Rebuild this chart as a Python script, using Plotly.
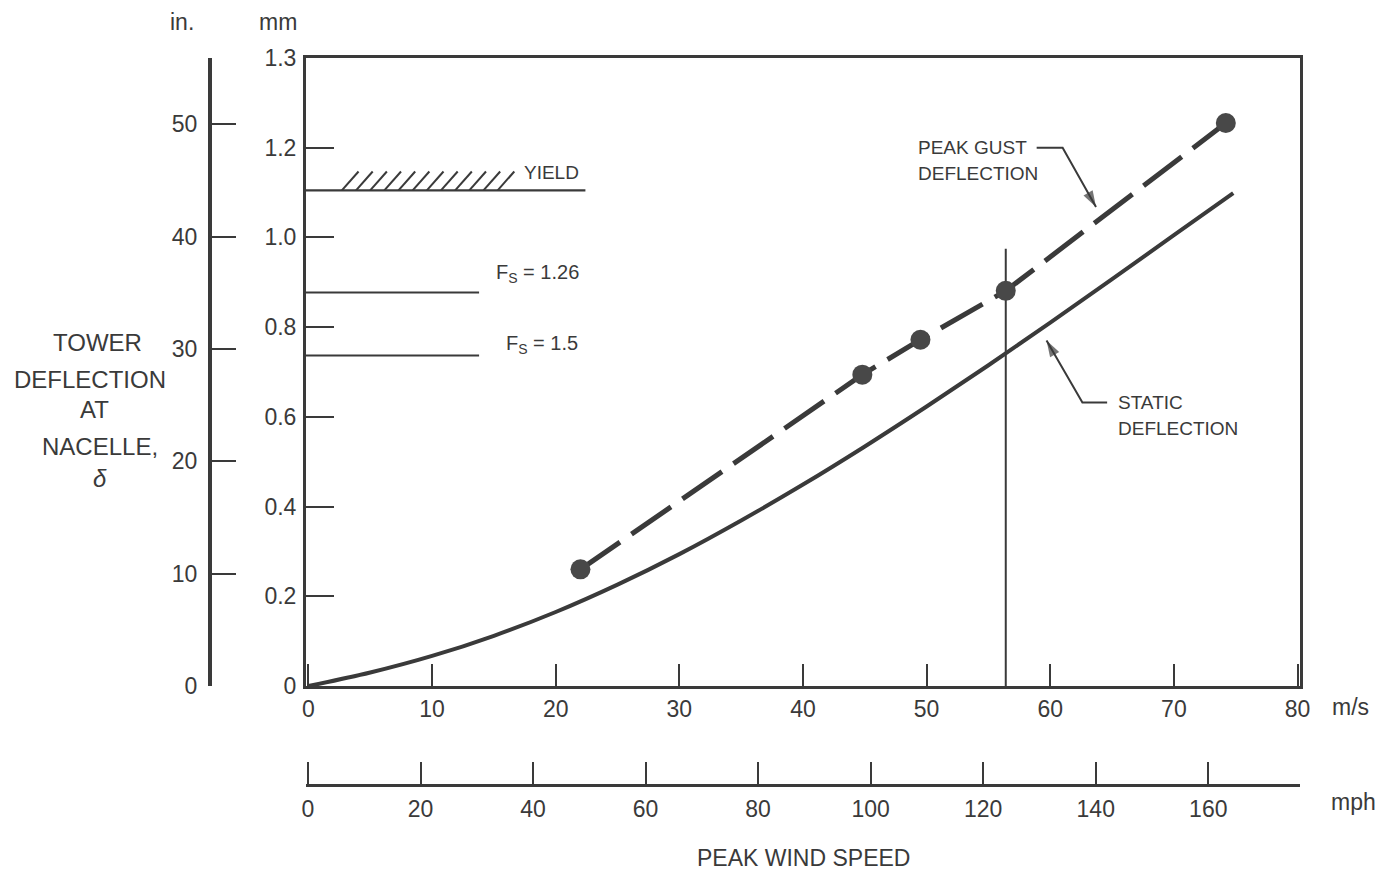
import numpy as np
import plotly.graph_objects as go

# ---- data -------------------------------------------------------------
# static deflection curve: peak wind speed (m/s) vs nacelle deflection
static_speed = [0, 5, 10, 15, 20, 25, 30, 35, 40, 45, 50, 55, 60, 65, 70, 74.8]
static_defl = [0, 0.03, 0.067, 0.112, 0.165, 0.226, 0.294, 0.369, 0.449,
               0.534, 0.623, 0.715, 0.810, 0.907, 1.005, 1.099]

# peak gust deflection points
gust_speed = [22.0, 44.8, 49.5, 56.4, 74.2]
gust_defl = [0.26, 0.694, 0.772, 0.881, 1.255]

# yield level and the safety-factor levels below it
yield_defl = 1.105
yield_end_speed = 22.4
safety_factors = [1.26, 1.5]
fs_end_speed = 13.8

# vertical reference at the design gust speed
ref_speed = 56.4
ref_top = 0.975

# axis ticks
ms_ticks = [0, 10, 20, 30, 40, 50, 60, 70, 80]
mm_ticks = [0, 0.2, 0.4, 0.6, 0.8, 1.0, 1.2, 1.4]
mm_labels = ["0", "0.2", "0.4", "0.6", "0.8", "1.0", "1.2", "1.3"]
in_ticks = [0, 10, 20, 30, 40, 50]
mph_ticks = [0, 20, 40, 60, 80, 100, 120, 140, 160]

# ---- layout helpers -----------------------------------------------------
W, H = 1394, 876
INK = "#3a3a3a"
FONT = "Liberation Sans, Arial, Helvetica, sans-serif"


def px(x):
    return x / W


def py(y):
    return 1 - y / H


X_RANGE = [-0.2, 80.2]
Y_RANGE = [0, 1.4]

fig = go.Figure()

# hidden traces so the secondary scales are laid out
fig.add_trace(go.Scatter(x=[0], y=[0], xaxis="x2", yaxis="y", mode="markers",
                         marker=dict(opacity=0), hoverinfo="skip", showlegend=False))
fig.add_trace(go.Scatter(x=[0], y=[0], xaxis="x", yaxis="y2", mode="markers",
                         marker=dict(opacity=0), hoverinfo="skip", showlegend=False))

# yield and safety factor levels
fig.add_trace(go.Scatter(x=[X_RANGE[0], yield_end_speed], y=[yield_defl, yield_defl],
                         mode="lines", line=dict(color=INK, width=2.2),
                         hoverinfo="skip", showlegend=False))
for fs in safety_factors:
    lvl = yield_defl / fs
    fig.add_trace(go.Scatter(x=[X_RANGE[0], fs_end_speed], y=[lvl, lvl],
                             mode="lines", line=dict(color=INK, width=2),
                             hoverinfo="skip", showlegend=False))

# hatching above the yield line
hatch_dx, hatch_dy = 1.35, 0.042
for xs in np.linspace(2.7, 15.3, 12):
    fig.add_shape(type="line", xref="x", yref="y", x0=xs, y0=yield_defl,
                  x1=xs + hatch_dx, y1=yield_defl + hatch_dy,
                  line=dict(color=INK, width=2))

# vertical reference line
fig.add_trace(go.Scatter(x=[ref_speed, ref_speed], y=[0, ref_top], mode="lines",
                         line=dict(color=INK, width=2), hoverinfo="skip",
                         showlegend=False))

# static deflection
fig.add_trace(go.Scatter(x=static_speed, y=static_defl, mode="lines",
                         line=dict(color=INK, width=4, shape="spline", smoothing=1.0),
                         showlegend=False))

# peak gust deflection
fig.add_trace(go.Scatter(x=gust_speed, y=gust_defl, mode="lines+markers",
                         line=dict(color=INK, width=5, dash="48px,14px"),
                         marker=dict(size=20, color="#484848"),
                         showlegend=False))


# leader lines: label end -> bend -> arrow tip
def leader(xs, ys):
    fig.add_trace(go.Scatter(
        x=xs, y=ys, mode="lines+markers", hoverinfo="skip", showlegend=False,
        line=dict(color=INK, width=2),
        marker=dict(symbol=["circle", "circle", "arrow"], size=[0, 0, 17],
                    angleref="previous", color=INK, line=dict(width=0))))


leader([58.9, 61.0, 63.7], [1.20, 1.20, 1.068])
leader([64.6, 62.6, 59.7], [0.632, 0.632, 0.770])

tickfont = dict(family=FONT, size=23, color=INK)

fig.update_layout(
    width=W, height=H, template="none",
    margin=dict(l=0, r=0, t=0, b=0),
    paper_bgcolor="white", plot_bgcolor="white",
    font=dict(family=FONT, color=INK),
    xaxis=dict(domain=[px(306), px(1300)], range=X_RANGE, anchor="y",
               showgrid=False, zeroline=False, showline=True, linewidth=3,
               linecolor=INK, mirror=True, ticks="inside", ticklen=22,
               tickwidth=2, tickcolor=INK, tickvals=ms_ticks,
               tickfont=tickfont, ticklabelstandoff=0, automargin=False),
    yaxis=dict(domain=[py(686), py(58)], range=Y_RANGE, anchor="x",
               showgrid=False, zeroline=False, showline=True, linewidth=3,
               linecolor=INK, mirror=True, ticks="inside", ticklen=28,
               tickwidth=2, tickcolor=INK, tickvals=mm_ticks, ticktext=mm_labels,
               tickfont=tickfont, ticklabelstandoff=2, automargin=False),
    xaxis2=dict(overlaying="x", anchor="free", position=py(785), side="bottom",
                range=[-0.35, 176.3], showgrid=False, zeroline=False,
                showline=True, linewidth=3, linecolor=INK, ticks="inside",
                ticklen=22, tickwidth=2, tickcolor=INK, tickvals=mph_ticks,
                tickfont=tickfont, ticklabelstandoff=2, automargin=False),
    yaxis2=dict(overlaying="y", anchor="free", position=px(210), side="left",
                range=[0, 55.9], showgrid=False, zeroline=False,
                showline=True, linewidth=4, linecolor=INK, ticks="inside",
                ticklen=24, tickwidth=2, tickcolor=INK, tickvals=in_ticks,
                tickfont=tickfont, ticklabelstandoff=6, automargin=False),
)


def paper_text(text, x, y, size=23, xanchor="center"):
    fig.add_annotation(text=text, x=px(x), y=py(y), xref="paper", yref="paper",
                       xanchor=xanchor, yanchor="middle", showarrow=False,
                       font=dict(family=FONT, size=size, color=INK))


def data_text(text, x, y, size=19, xanchor="left"):
    fig.add_annotation(text=text, x=x, y=y, xref="x", yref="y",
                       xanchor=xanchor, yanchor="middle", showarrow=False,
                       font=dict(family=FONT, size=size, color=INK))


# unit labels and axis titles
paper_text("in.", 182, 22)
paper_text("mm", 278, 22)
paper_text("m/s", 1350, 707)
paper_text("mph", 1353, 802)
paper_text("PEAK WIND SPEED", 803, 858)
for line, cx, cy in [("TOWER", 97, 342), ("DEFLECTION", 90, 379), ("AT", 94, 410),
                     ("NACELLE,", 100, 446), ("<i>δ</i>", 100, 478)]:
    paper_text(line, cx, cy, size=24)

# level labels
data_text("YIELD", 17.3, yield_defl + 0.04, size=19)
data_text("F<sub>S</sub> = 1.26", 15.0, yield_defl / 1.26 + 0.042, size=20)
data_text("F<sub>S</sub> = 1.5", 15.8, yield_defl / 1.5 + 0.025, size=20)

# curve labels
data_text("PEAK GUST", 49.1, 1.20, size=19)
data_text("DEFLECTION", 49.1, 1.142, size=19)
data_text("STATIC", 65.3, 0.632, size=19)
data_text("DEFLECTION", 65.3, 0.574, size=19)

fig.write_html("out.html")
